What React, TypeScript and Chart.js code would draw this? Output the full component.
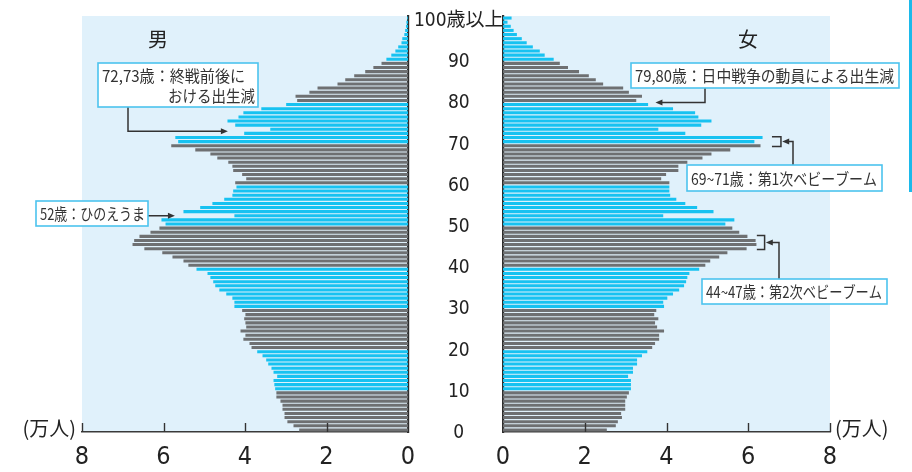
import React, { useEffect, useRef } from "react";
import { Chart, registerables } from "chart.js";

Chart.register(...registerables);

// ---- data ----
const ages: string[] = Array.from({ length: 101 }, (_, i) => String(i));

// 男 (万人), ages 0..100+
const maleValues = [
  2.67, 2.81, 2.96, 3.03, 3.03, 3.08, 3.08, 3.13, 3.23, 3.23,
  3.26, 3.28, 3.3, 3.21, 3.3, 3.35, 3.43, 3.48, 3.57, 3.7,
  3.84, 3.89, 4.04, 3.99, 4.11, 3.97, 3.99, 4.02, 3.99, 4.07,
  4.26, 4.26, 4.31, 4.46, 4.63, 4.73, 4.78, 4.85, 4.92, 5.19,
  5.39, 5.51, 5.78, 6.03, 6.47, 6.76, 6.72, 6.59, 6.32, 6.1,
  5.95, 6.05, 4.26, 5.51, 5.1, 4.8, 4.51, 4.31, 4.29, 4.21,
  4.24, 3.97, 4.07, 4.29, 4.31, 4.41, 4.68, 4.85, 5.22, 5.81,
  5.64, 5.71, 4.02, 3.38, 4.24, 4.43, 4.16, 4.04, 3.6, 2.99,
  2.72, 2.76, 2.42, 2.22, 1.73, 1.54, 1.32, 1.05, 0.85, 0.65,
  0.53, 0.41, 0.31, 0.24, 0.16, 0.14, 0.09, 0.07, 0.05, 0.04,
  0.02,
];

// 女 (万人), ages 0..100+
const femaleValues = [
  2.54, 2.76, 2.81, 2.91, 2.89, 2.99, 2.99, 2.99, 3.03, 3.08,
  3.13, 3.13, 3.13, 3.06, 3.18, 3.18, 3.28, 3.28, 3.4, 3.53,
  3.65, 3.72, 3.82, 3.82, 3.94, 3.77, 3.72, 3.8, 3.7, 3.75,
  3.94, 3.92, 4.02, 4.16, 4.31, 4.43, 4.48, 4.51, 4.56, 4.8,
  4.95, 5.07, 5.29, 5.49, 5.96, 6.2, 6.18, 5.98, 5.78, 5.61,
  5.44, 5.66, 3.92, 5.15, 4.75, 4.46, 4.24, 4.09, 4.07, 4.07,
  4.07, 3.87, 3.99, 4.29, 4.29, 4.51, 4.88, 5.1, 5.56, 6.3,
  6.15, 6.35, 4.46, 3.8, 4.85, 5.1, 4.78, 4.7, 4.16, 3.55,
  3.26, 3.4, 3.08, 2.94, 2.45, 2.27, 2.1, 1.86, 1.59, 1.39,
  1.24, 1.02, 0.9, 0.73, 0.58, 0.46, 0.34, 0.26, 0.19, 0.11,
  0.21,
];

const ageTickValues = [0, 10, 20, 30, 40, 50, 60, 70, 80, 90, 100];
const ageTickTexts = ["0", "10", "20", "30", "40", "50", "60", "70", "80", "90", "100歳以上"];
const valueTicks = [0, 2, 4, 6, 8];
const unitLabel = "(万人)";
const maleTitle = "男";
const femaleTitle = "女";

// ---- styles ----
const GREY = "#6e7072";
const BLUE = "#17c2f1";
const BG = "#e0f1fb";
const BOX = "#4cc3ee";
const INK = "#333333";
const NUM_FONT = "'Liberation Sans Narrow', 'DejaVu Sans Condensed', 'Noto Sans CJK JP', sans-serif";
const JP_FONT = "'Noto Sans CJK JP', sans-serif";

const barColor = (age: number) => (age >= 90 || Math.floor(age / 10) % 2 === 1 ? BLUE : GREY);

const LEFT_W = 503;
const RIGHT_X = 495;
const RIGHT_W = 912 - RIGHT_X;
const H = 472;

function drawArrow(ctx: CanvasRenderingContext2D, pts: [number, number][]) {
  ctx.save();
  ctx.strokeStyle = INK;
  ctx.fillStyle = INK;
  ctx.lineWidth = 1.5;
  const n = pts.length;
  const [x1, y1] = pts[n - 2];
  const [x2, y2] = pts[n - 1];
  const ang = Math.atan2(y2 - y1, x2 - x1);
  const L = 7, W = 3;
  ctx.beginPath();
  ctx.moveTo(pts[0][0], pts[0][1]);
  for (let i = 1; i < n - 1; i++) ctx.lineTo(pts[i][0], pts[i][1]);
  ctx.lineTo(x2 - Math.cos(ang) * (L - 1), y2 - Math.sin(ang) * (L - 1));
  ctx.stroke();
  ctx.beginPath();
  ctx.moveTo(x2, y2);
  ctx.lineTo(x2 - L * Math.cos(ang) + W * Math.sin(ang), y2 - L * Math.sin(ang) - W * Math.cos(ang));
  ctx.lineTo(x2 - L * Math.cos(ang) - W * Math.sin(ang), y2 - L * Math.sin(ang) + W * Math.cos(ang));
  ctx.closePath();
  ctx.fill();
  ctx.restore();
}

function drawBox(ctx: CanvasRenderingContext2D, x: number, y: number, w: number, h: number) {
  ctx.save();
  ctx.fillStyle = "#ffffff";
  ctx.fillRect(x, y, w, h);
  ctx.strokeStyle = BOX;
  ctx.lineWidth = 1.6;
  ctx.strokeRect(x, y, w, h);
  ctx.restore();
}

function drawText(
  ctx: CanvasRenderingContext2D,
  text: string,
  x: number,
  y: number,
  align: CanvasTextAlign,
  maxW?: number,
  size = 16,
  color = INK
) {
  ctx.save();
  ctx.font = `${size}px ${JP_FONT}`;
  ctx.fillStyle = color;
  ctx.textAlign = align;
  ctx.textBaseline = "middle";
  if (maxW) ctx.fillText(text, x, y, maxW);
  else ctx.fillText(text, x, y);
  ctx.restore();
}

function bgPlugin() {
  return {
    id: "panelBg",
    beforeDraw(chart: any) {
      const { ctx, chartArea: a } = chart;
      ctx.save();
      ctx.fillStyle = BG;
      ctx.fillRect(a.left, a.top, a.right - a.left, a.bottom - a.top);
      ctx.restore();
    },
    afterDatasetsDraw(chart: any) {
      const { ctx, chartArea: a } = chart;
      const xs = chart.scales.x;
      ctx.save();
      ctx.strokeStyle = INK;
      ctx.lineWidth = 1.4;
      for (const v of valueTicks) {
        if (v === 0) continue;
        const px = Math.round(xs.getPixelForValue(v)) + 0.5;
        ctx.beginPath();
        ctx.moveTo(px, a.bottom);
        ctx.lineTo(px, a.bottom - 9);
        ctx.stroke();
      }
      ctx.restore();
    },
  };
}

const leftAnnotations = {
  id: "leftNotes",
  afterDraw(chart: any) {
    const { ctx, chartArea: a } = chart;
    const xs = chart.scales.x;
    const ys = chart.scales.y;
    drawText(ctx, maleTitle, 158, 39, "center", undefined, 20, "#222");
    drawText(ctx, unitLabel, 76, a.bottom - 4, "right", 58, 20, "#222");

    // 72,73歳
    const yA = ys.getPixelForValue(72.5);
    drawArrow(ctx, [[128, 107], [128, yA], [xs.getPixelForValue(4.42), yA]]);
    drawBox(ctx, 98, 63, 160, 44);
    drawText(ctx, "72,73歳：終戦前後に", 102, 76, "left", 143);
    drawText(ctx, "おける出生減", 255, 96, "right", 87);

    // 52歳
    const yB = ys.getPixelForValue(52);
    drawArrow(ctx, [[148, yB], [xs.getPixelForValue(5.72), yB]]);
    drawBox(ctx, 36, 201, 112, 25);
    drawText(ctx, "52歳：ひのえうま", 92.5, 214, "center", 105);
  },
};

const rightAnnotations = {
  id: "rightNotes",
  afterDraw(chart: any) {
    const { ctx, chartArea: a } = chart;
    const xs = chart.scales.x;
    const ys = chart.scales.y;
    const P = (x: number) => x - RIGHT_X;
    drawText(ctx, femaleTitle, P(748), 39, "center", undefined, 20, "#222");
    drawText(ctx, unitLabel, a.right + 5, a.bottom - 4, "left", 58, 20, "#222");

    // decorative edge bar
    ctx.save();
    ctx.fillStyle = "#1cb9ea";
    ctx.fillRect(P(909), 0, 3, 192);
    ctx.restore();

    // 79,80歳
    const y80 = ys.getPixelForValue(79.5);
    drawArrow(ctx, [[P(705), 88], [P(705), y80], [xs.getPixelForValue(3.73), y80]]);
    drawBox(ctx, P(631), 63, 268, 25);
    drawText(ctx, "79,80歳：日中戦争の動員による出生減", P(764.5), 76, "center", 259);

    // brackets
    ctx.save();
    ctx.strokeStyle = INK;
    ctx.lineWidth = 1.5;
    const bracket = (v0: number, v1: number, a0: number, a1: number) => {
      const x0 = xs.getPixelForValue(v0), x1 = xs.getPixelForValue(v1);
      const yt = ys.getPixelForValue(a0), yb = ys.getPixelForValue(a1);
      ctx.beginPath();
      ctx.moveTo(x0, yt);
      ctx.lineTo(x1, yt);
      ctx.lineTo(x1, yb);
      ctx.lineTo(x0, yb);
      ctx.stroke();
    };
    bracket(6.58, 6.8, 71.2, 68.8);
    bracket(6.21, 6.4, 47.2, 43.8);
    ctx.restore();

    // 69~71歳
    const y70 = ys.getPixelForValue(70);
    drawArrow(ctx, [[P(793), 165], [P(793), y70], [xs.getPixelForValue(6.83), y70]]);
    drawBox(ctx, P(687), 165, 195, 26);
    drawText(ctx, "69~71歳：第1次ベビーブーム", P(784), 178.5, "center", 186);

    // 44~47歳
    const y45 = ys.getPixelForValue(45.5);
    drawArrow(ctx, [[P(779), 279], [P(779), y45], [xs.getPixelForValue(6.43), y45]]);
    drawBox(ctx, P(702), 279, 185, 25);
    drawText(ctx, "44~47歳：第2次ベビーブーム", P(794), 291.5, "center", 176);
  },
};

function makeConfig(values: number[], side: "left" | "right"): any {
  const isLeft = side === "left";
  return {
    type: "bar",
    data: {
      labels: ages,
      datasets: [
        {
          data: values,
          backgroundColor: ages.map((a) => barColor(Number(a))),
          borderWidth: 0,
          barPercentage: 0.74,
          categoryPercentage: 1,
        },
      ],
    },
    options: {
      indexAxis: "y",
      responsive: false,
      animation: false,
      devicePixelRatio: 1,
      layout: {
        padding: isLeft
          ? { left: 82, top: 16, right: 0, bottom: 0 }
          : { left: 8, top: 16, right: 82, bottom: 0 },
      },
      plugins: { legend: { display: false }, tooltip: { enabled: false }, title: { display: false } },
      scales: {
        x: {
          type: "linear",
          reverse: isLeft,
          min: 0,
          max: 8,
          afterBuildTicks: (s: any) => {
            s.ticks = valueTicks.map((v) => ({ value: v }));
          },
          ticks: {
            font: { size: 25, family: NUM_FONT },
            color: "#222",
            padding: 10,
            maxRotation: 0,
          },
          grid: { display: false, drawTicks: false },
          border: { display: true, color: "#3a3a3a", width: 1.6 },
          afterFit: (s: any) => {
            s.height = 40;
            s.paddingLeft = 0;
            s.paddingRight = 0;
          },
        },
        y: {
          type: "category",
          position: isLeft ? "right" : "left",
          reverse: true,
          z: 1,
          grid: { display: false, drawTicks: false },
          border: { display: true, color: "#2e2e2e", width: 2.2 },
          ticks: {
            display: isLeft,
            autoSkip: false,
            crossAlign: "center",
            padding: 6,
            labelOffset: 3,
            font: { size: 19, family: NUM_FONT },
            color: "#222",
            callback: function (this: any, value: any) {
              const age = Number(this.getLabelForValue(value));
              const i = ageTickValues.indexOf(age);
              return i >= 0 ? ageTickTexts[i] : "";
            },
          },
          afterFit: (s: any) => {
            s.width = isLeft ? 95 : 0;
            s.paddingTop = 0;
            s.paddingBottom = 0;
          },
        },
      },
    },
    plugins: [bgPlugin(), isLeft ? leftAnnotations : rightAnnotations],
  };
}

export default function App() {
  const leftRef = useRef<HTMLCanvasElement | null>(null);
  const rightRef = useRef<HTMLCanvasElement | null>(null);

  useEffect(() => {
    const l = new Chart(leftRef.current as HTMLCanvasElement, makeConfig(maleValues, "left"));
    const r = new Chart(rightRef.current as HTMLCanvasElement, makeConfig(femaleValues, "right"));
    return () => {
      l.destroy();
      r.destroy();
    };
  }, []);

  return (
    <div style={{ position: "absolute", left: 0, top: 0, width: 912, height: H, background: "#ffffff", overflow: "hidden" }}>
      <canvas
        ref={leftRef}
        width={LEFT_W}
        height={H}
        style={{ position: "absolute", left: 0, top: 0, width: LEFT_W, height: H }}
      />
      <canvas
        ref={rightRef}
        width={RIGHT_W}
        height={H}
        style={{ position: "absolute", left: RIGHT_X, top: 0, width: RIGHT_W, height: H }}
      />
    </div>
  );
}
